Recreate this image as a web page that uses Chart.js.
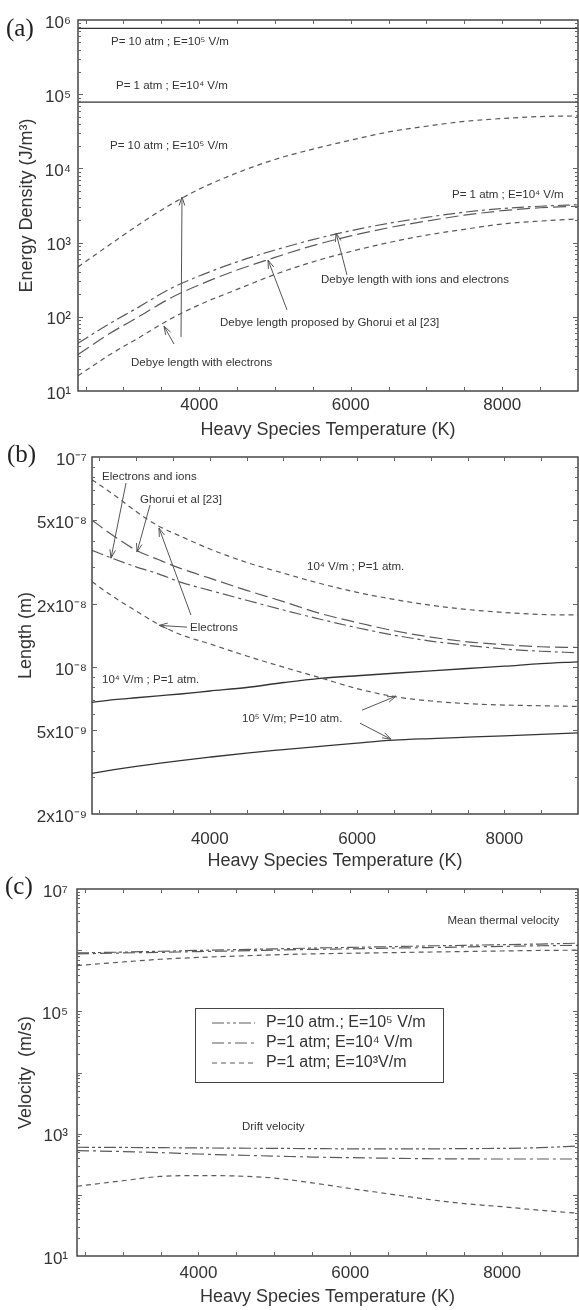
<!DOCTYPE html>
<html><head><meta charset="utf-8">
<script src="https://cdn.jsdelivr.net/npm/chart.js@4.4.1/dist/chart.umd.min.js"></script>
<style>
html,body{margin:0;padding:0;background:#fff;}
#wrap{position:relative;width:579px;height:1310px;overflow:hidden;background:#fff;}
canvas{position:absolute;left:0;}
</style></head><body>
<div id="wrap">
<canvas id="ca" style="top:0px" width="579" height="445"></canvas>
<canvas id="cb" style="top:435px" width="579" height="445"></canvas>
<canvas id="cc" style="top:860px" width="579" height="450"></canvas>
</div>
<script>
// ---------- shared x axis ----------
const tempTicks = [2500, 3000, 3500, 4000, 4500, 5000, 5500, 6000, 6500, 7000, 7500, 8000, 8500, 9000];
const tempTickLabels = [4000, 6000, 8000];

// ---------- panel (a): energy density ----------
const tempA = [2400, 2800, 3200, 3600, 4000, 4500, 5000, 5500, 6000, 6500, 7000, 7500, 8000, 8500, 9000];
const energyP10Electrons = [470, 910, 1740, 3160, 5250, 8700, 13200, 18200, 24000, 31000, 37000, 43000, 47000, 50000, 51000];
const energyP1IonsElectrons = [44, 79, 135, 234, 355, 550, 794, 1096, 1445, 1820, 2190, 2570, 2880, 3090, 3240];
const energyP1Ghorui = [31, 58, 100, 174, 269, 427, 631, 912, 1230, 1585, 1950, 2340, 2690, 2950, 3090];
const energyP1Electrons = [16, 30, 52, 91, 145, 234, 372, 550, 759, 1000, 1260, 1510, 1780, 1950, 2090];
const tempFieldA = [2400, 9000];
const energyFieldP10 = [770000, 770000];
const energyFieldP1 = [78000, 78000];
const energyTicks = [10, 100, 1000, 10000, 100000, 1000000];
const energyTickText = ['10¹', '10²', '10³', '10⁴', '10⁵', '10⁶'];

// ---------- panel (b): Debye length ----------
const tempB = [2400, 2700, 3000, 3300, 3600, 4000, 4500, 5000, 5500, 6000, 6500, 7000, 7500, 8000, 8500, 9000];
const lengthP1Electrons = [7.8e-8, 6.6e-8, 5.5e-8, 4.7e-8, 4.2e-8, 3.65e-8, 3.15e-8, 2.8e-8, 2.5e-8, 2.27e-8, 2.1e-8, 1.97e-8, 1.88e-8, 1.82e-8, 1.78e-8, 1.77e-8];
const lengthP1Ghorui = [5.0e-8, 4.2e-8, 3.6e-8, 3.25e-8, 2.95e-8, 2.65e-8, 2.32e-8, 2.05e-8, 1.8e-8, 1.63e-8, 1.49e-8, 1.39e-8, 1.32e-8, 1.28e-8, 1.25e-8, 1.24e-8];
const lengthP1IonsElectrons = [3.6e-8, 3.27e-8, 3.0e-8, 2.78e-8, 2.54e-8, 2.32e-8, 2.08e-8, 1.87e-8, 1.69e-8, 1.54e-8, 1.42e-8, 1.33e-8, 1.27e-8, 1.22e-8, 1.19e-8, 1.17e-8];
const lengthP10Electrons = [2.55e-8, 2.15e-8, 1.85e-8, 1.6e-8, 1.43e-8, 1.29e-8, 1.13e-8, 1.0e-8, 8.9e-9, 7.9e-9, 7.25e-9, 6.9e-9, 6.7e-9, 6.6e-9, 6.55e-9, 6.5e-9];
const lengthFieldP1 = [6.8e-9, 7.0e-9, 7.15e-9, 7.3e-9, 7.45e-9, 7.7e-9, 8.0e-9, 8.45e-9, 8.85e-9, 9.1e-9, 9.35e-9, 9.6e-9, 9.85e-9, 1.01e-8, 1.04e-8, 1.06e-8];
const lengthFieldP10 = [3.12e-9, 3.25e-9, 3.37e-9, 3.48e-9, 3.59e-9, 3.73e-9, 3.90e-9, 4.05e-9, 4.2e-9, 4.35e-9, 4.49e-9, 4.57e-9, 4.64e-9, 4.71e-9, 4.79e-9, 4.86e-9];
const lengthTicks = [2e-9, 5e-9, 1e-8, 2e-8, 5e-8, 1e-7];
const lengthTickText = ['2x10⁻⁹', '5x10⁻⁹', '10⁻⁸', '2x10⁻⁸', '5x10⁻⁸', '10⁻⁷'];

// ---------- panel (c): velocity ----------
const tempC = [2400, 3000, 3500, 4000, 4500, 5000, 5500, 6000, 6500, 7000, 7500, 8000, 8500, 9000];
const thermalP10E5 = [9.0e5, 9.3e5, 9.6e5, 9.9e5, 1.02e6, 1.05e6, 1.08e6, 1.11e6, 1.14e6, 1.17e6, 1.2e6, 1.23e6, 1.26e6, 1.3e6];
const thermalP1E4 = [8.7e5, 9.0e5, 9.2e5, 9.5e5, 9.7e5, 1.0e6, 1.03e6, 1.05e6, 1.08e6, 1.1e6, 1.13e6, 1.15e6, 1.18e6, 1.2e6];
const thermalP1E3 = [5.6e5, 6.4e5, 7.1e5, 7.6e5, 8.0e5, 8.4e5, 8.7e5, 8.9e5, 9.1e5, 9.3e5, 9.5e5, 9.7e5, 9.9e5, 1.0e6];
const driftP10E5 = [600, 595, 590, 585, 580, 575, 570, 565, 565, 565, 570, 575, 590, 630];
const driftP1E4 = [530, 510, 490, 465, 445, 430, 415, 405, 397, 390, 387, 385, 385, 385];
const driftP1E3 = [138, 170, 200, 206, 203, 188, 157, 127, 104, 85, 72, 64, 56, 50];
const velocityTicks = [10, 1000, 100000, 10000000];
const velocityTickText = ['10¹', '10³', '10⁵', '10⁷'];
const legendC = ['P=10 atm.; E=10⁵ V/m', 'P=1 atm; E=10⁴ V/m', 'P=1 atm; E=10³V/m'];

// ---------- annotations (data coordinates) ----------
const notesA = [
  {text: 'P= 10 atm ; E=10⁵ V/m', x: 2836, y: 5.06e5},
  {text: 'P= 1 atm ; E=10⁴ V/m', x: 2902, y: 1.29e5},
  {text: 'P= 10 atm ; E=10⁵ V/m', x: 2822, y: 2.0e4},
  {text: 'P= 1 atm ; E=10⁴ V/m', x: 7337, y: 4.4e3},
  {text: 'Debye length with ions and electrons', x: 5608, y: 313},
  {text: 'Debye length proposed by Ghorui et al [23]', x: 4274, y: 83},
  {text: 'Debye length with electrons', x: 3100, y: 23.8}
];
const arrowsA = [
  {from: [3760, 53.5], to: [3773, 4120]},
  {from: [3667, 43], to: [3535, 75]},
  {from: [5159, 124], to: [4908, 583]},
  {from: [5951, 366], to: [5806, 1346]}
];
const notesB = [
  {text: 'Electrons and ions', x: 2536, y: 8.03e-8},
  {text: 'Ghorui et al [23]', x: 3052, y: 6.24e-8},
  {text: 'Electrons', x: 3731, y: 1.53e-8},
  {text: '10⁴ V/m ; P=1 atm.', x: 5320, y: 2.99e-8},
  {text: '10⁴ V/m ; P=1 atm.', x: 2536, y: 8.67e-9},
  {text: '10⁵ V/m; P=10 atm.', x: 4437, y: 5.65e-9}
];
const arrowsB = [
  {from: [2862, 7.52e-8], to: [2658, 3.30e-8]},
  {from: [3188, 5.91e-8], to: [3011, 3.53e-8]},
  {from: [3690, 1.55e-8], to: [3310, 1.58e-8]},
  {from: [3744, 1.77e-8], to: [3310, 4.59e-8]},
  {from: [6067, 6.24e-9], to: [6529, 7.28e-9]},
  {from: [6039, 5.41e-9], to: [6460, 4.54e-9]}
];
const notesC = [
  {text: 'Mean thermal velocity', x: 7280, y: 3.0e6},
  {text: 'Drift velocity', x: 4573, y: 1290}
];

// ---------- helpers ----------
const INK = '#333';
const LINE = '#5a5a5a';
const SOLID = '#333';
const DASH_SHORT = [5, 4];
const DASH_LONG = [13, 5];
const DASH_DOT = [12, 4, 3, 4];
const DASH_DOT_DOT = [12, 3, 3, 3, 3, 3];
const FONT = '"Liberation Sans", Arial, sans-serif';

function pts(xs, ys) { return xs.map((t, i) => ({x: t, y: ys[i]})); }
function ds(label, xs, ys, dash, color, width) {
  return {label, data: pts(xs, ys), borderColor: color || LINE, borderWidth: width || 1.2,
    borderDash: dash || [], pointRadius: 0, fill: false, cubicInterpolationMode: 'monotone'};
}
function logTicks(min, max, labeled) {
  const out = [];
  for (let e = Math.floor(Math.log10(min)) - 1; e <= Math.ceil(Math.log10(max)); e++) {
    for (let m = 1; m <= 9; m++) {
      const v = m * Math.pow(10, e);
      if (v < min * 0.999 || v > max * 1.001) continue;
      const isLab = labeled.some(l => Math.abs(Math.log10(l / v)) < 1e-6);
      out.push({value: v, minor: m !== 1 && !isLab});
    }
  }
  return out;
}
function labelFor(v, list, text) {
  for (let i = 0; i < list.length; i++) if (Math.abs(Math.log10(list[i] / v)) < 1e-6) return text[i];
  return '';
}
function arrow(ctx, x1, y1, x2, y2) {
  const a = Math.atan2(y2 - y1, x2 - x1), hl = 9, ha = 0.32;
  ctx.beginPath();
  ctx.moveTo(x1, y1); ctx.lineTo(x2, y2);
  ctx.moveTo(x2 - hl * Math.cos(a - ha), y2 - hl * Math.sin(a - ha));
  ctx.lineTo(x2, y2);
  ctx.lineTo(x2 - hl * Math.cos(a + ha), y2 - hl * Math.sin(a + ha));
  ctx.stroke();
}

const decorPlugin = {
  id: 'decor',
  afterDraw(chart, args, o) {
    const {ctx, chartArea: ca, scales: {x, y}} = chart;
    ctx.save();
    ctx.strokeStyle = '#3a3a3a'; ctx.lineWidth = 1.4; ctx.setLineDash([]);
    ctx.strokeRect(ca.left, ca.top, ca.right - ca.left, ca.bottom - ca.top);
    ctx.lineWidth = 1; ctx.strokeStyle = '#666';
    ctx.beginPath();
    x.ticks.forEach(t => {
      const px = Math.round(x.getPixelForValue(t.value)) + 0.5;
      if (px <= ca.left + 2 || px >= ca.right - 2) return;
      ctx.moveTo(px, ca.bottom); ctx.lineTo(px, ca.bottom - 4);
      ctx.moveTo(px, ca.top); ctx.lineTo(px, ca.top + 4);
    });
    y.ticks.forEach(t => {
      const py = Math.round(y.getPixelForValue(t.value)) + 0.5;
      if (py <= ca.top + 2 || py >= ca.bottom - 2) return;
      const L = t.minor ? 3 : 5;
      ctx.moveTo(ca.left, py); ctx.lineTo(ca.left + L, py);
      ctx.moveTo(ca.right, py); ctx.lineTo(ca.right - L, py);
    });
    ctx.stroke();
    // panel tag
    ctx.fillStyle = '#222'; ctx.font = '25px "Liberation Serif", serif';
    ctx.textBaseline = 'middle'; ctx.textAlign = 'left';
    ctx.fillText(o.tag, o.tagX, o.tagY);
    // notes
    ctx.fillStyle = INK; ctx.font = '11.5px ' + FONT;
    (o.notes || []).forEach(n => ctx.fillText(n.text, x.getPixelForValue(n.x), y.getPixelForValue(n.y)));
    ctx.strokeStyle = '#555'; ctx.lineWidth = 1;
    (o.arrows || []).forEach(a => arrow(ctx, x.getPixelForValue(a.from[0]), y.getPixelForValue(a.from[1]),
      x.getPixelForValue(a.to[0]), y.getPixelForValue(a.to[1])));
    // legend box
    if (o.legend) {
      const L = o.legend, bx = ca.left + L.dx, by = ca.top + L.dy;
      ctx.strokeStyle = '#444'; ctx.lineWidth = 1;
      ctx.strokeRect(bx + 0.5, by + 0.5, L.w, L.h);
      ctx.font = '16px ' + FONT; ctx.fillStyle = INK;
      L.items.forEach((it, i) => {
        const d = chart.data.datasets[it.ds];
        const yy = by + 15 + i * 20;
        ctx.strokeStyle = d.borderColor; ctx.lineWidth = d.borderWidth; ctx.setLineDash(d.borderDash);
        ctx.beginPath(); ctx.moveTo(bx + 17, yy); ctx.lineTo(bx + 60, yy); ctx.stroke();
        ctx.setLineDash([]);
        ctx.fillText(it.text, bx + 71, yy);
      });
    }
    ctx.restore();
  }
};

function makeChart(id, cfg) {
  const yList = cfg.yTicks, yText = cfg.yText;
  return new Chart(document.getElementById(id), {
    type: 'line',
    data: {datasets: cfg.datasets},
    plugins: [decorPlugin],
    options: {
      responsive: false, animation: false, events: [],
      layout: {padding: {top: cfg.padTop, right: 1, bottom: 0, left: 0}},
      plugins: {legend: {display: false}, tooltip: {enabled: false}, decor: cfg.decor},
      scales: {
        x: {
          type: 'linear', min: 2400, max: 9000,
          grid: {display: false, drawTicks: false}, border: {display: false},
          afterBuildTicks: s => { s.ticks = tempTicks.map(v => ({value: v})); },
          afterFit: s => { s.height = cfg.xHeight; },
          ticks: {autoSkip: false, maxRotation: 0, padding: 0, color: INK,
            font: {family: FONT, size: 17, lineHeight: cfg.xLabelLH},
            callback: v => tempTickLabels.includes(v) ? String(v) : ''},
          title: {display: true, text: 'Heavy Species Temperature (K)', color: INK,
            font: {family: FONT, size: 18},
            padding: {top: 0, bottom: cfg.xTitlePad}}
        },
        y: {
          type: 'logarithmic', min: cfg.yMin, max: cfg.yMax,
          grid: {display: false, drawTicks: false}, border: {display: false},
          afterBuildTicks: s => { s.ticks = logTicks(cfg.yMin, cfg.yMax, cfg.yMajor); },
          afterFit: s => { s.width = cfg.yWidth; },
          ticks: {autoSkip: false, padding: cfg.yLabelPad, color: INK, labelOffset: 3,
            font: {family: FONT, size: 17},
            callback: v => labelFor(v, yList, yText)},
          title: {display: true, text: cfg.yTitle, color: INK,
            font: {family: FONT, size: 18},
            padding: {top: cfg.yTitlePad, bottom: 0}}
        }
      }
    }
  });
}

// ---------- panel (a) ----------
makeChart('ca', {
  padTop: 20, xHeight: 54, yWidth: 78, xLabelLH: 1.65, xTitlePad: 4, yLabelPad: 7, yTitlePad: 16,
  yMin: 10, yMax: 1e6, yTicks: energyTicks, yText: energyTickText, yMajor: energyTicks,
  yTitle: 'Energy Density (J/m³)',
  datasets: [
    ds('P=10 atm; E=1e5 V/m (field)', tempFieldA, energyFieldP10, [], SOLID, 1.3),
    ds('P=1 atm; E=1e4 V/m (field)', tempFieldA, energyFieldP1, [], SOLID, 1.3),
    ds('P=10 atm: Debye length with electrons', tempA, energyP10Electrons, DASH_SHORT),
    ds('P=1 atm: Debye length with ions and electrons', tempA, energyP1IonsElectrons, DASH_DOT),
    ds('P=1 atm: Debye length proposed by Ghorui et al', tempA, energyP1Ghorui, DASH_LONG),
    ds('P=1 atm: Debye length with electrons', tempA, energyP1Electrons, DASH_SHORT)
  ],
  decor: {tag: '(a)', tagX: 6, tagY: 29, notes: notesA, arrows: arrowsA}
});

// ---------- panel (b) ----------
makeChart('cb', {
  padTop: 22, xHeight: 66, yWidth: 92, xLabelLH: 3.0, xTitlePad: 8, yLabelPad: 5, yTitlePad: 15,
  yMin: 2e-9, yMax: 1e-7, yTicks: lengthTicks, yText: lengthTickText, yMajor: lengthTicks.concat([1e-8]),
  yTitle: 'Length (m)',
  datasets: [
    ds('Electrons, 1e4 V/m; P=1 atm', tempB, lengthP1Electrons, DASH_SHORT),
    ds('Ghorui et al, 1e4 V/m; P=1 atm', tempB, lengthP1Ghorui, DASH_LONG),
    ds('Electrons and ions, 1e4 V/m; P=1 atm', tempB, lengthP1IonsElectrons, DASH_DOT),
    ds('Electrons, 1e5 V/m; P=10 atm', tempB, lengthP10Electrons, DASH_SHORT),
    ds('Field length, 1e4 V/m; P=1 atm', tempB, lengthFieldP1, [], SOLID, 1.3),
    ds('Field length, 1e5 V/m; P=10 atm', tempB, lengthFieldP10, [], SOLID, 1.3)
  ],
  decor: {tag: '(b)', tagX: 7, tagY: 20, notes: notesB, arrows: arrowsB}
});

// ---------- panel (c) ----------
makeChart('cc', {
  padTop: 29, xHeight: 54, yWidth: 77, xLabelLH: 2.0, xTitlePad: 2, yLabelPad: 9, yTitlePad: 15,
  yMin: 10, yMax: 1e7, yTicks: velocityTicks, yText: velocityTickText, yMajor: [10, 100, 1000, 1e4, 1e5, 1e6, 1e7],
  yTitle: 'Velocity  (m/s)',
  datasets: [
    ds(legendC[0] + ' (thermal)', tempC, thermalP10E5, DASH_DOT_DOT),
    ds(legendC[1] + ' (thermal)', tempC, thermalP1E4, DASH_DOT),
    ds(legendC[2] + ' (thermal)', tempC, thermalP1E3, DASH_SHORT),
    ds(legendC[0] + ' (drift)', tempC, driftP10E5, DASH_DOT_DOT),
    ds(legendC[1] + ' (drift)', tempC, driftP1E4, DASH_DOT),
    ds(legendC[2] + ' (drift)', tempC, driftP1E3, DASH_SHORT)
  ],
  decor: {tag: '(c)', tagX: 5, tagY: 27, notes: notesC, arrows: [],
    legend: {dx: 118, dy: 119, w: 248, h: 74, items: [
      {ds: 0, text: legendC[0]}, {ds: 1, text: legendC[1]}, {ds: 2, text: legendC[2]}]}}
});
</script>
</body></html>
